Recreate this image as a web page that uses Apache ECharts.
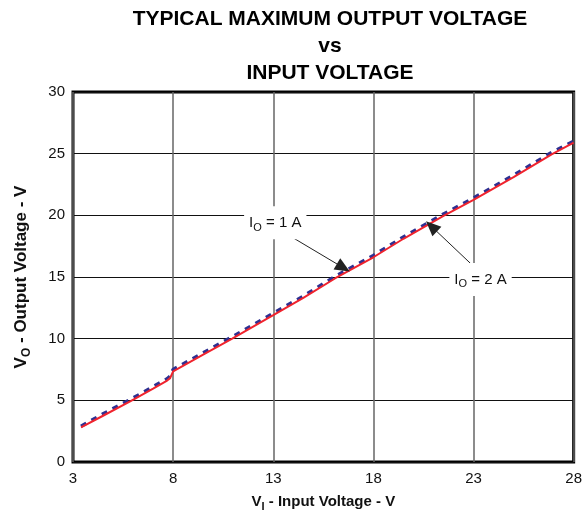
<!DOCTYPE html>
<html>
<head>
<meta charset="utf-8">
<script src="https://cdn.jsdelivr.net/npm/echarts@6/dist/echarts.min.js"></script>
<style>
  html, body { margin: 0; padding: 0; background: #fff; }
  #chart { width: 585px; height: 517px; }
</style>
</head>
<body>
<div id="chart"></div>
<script>
// input voltage (V)
const vin = [3.4, 4.5, 5.9, 7.0, 7.7, 7.85, 8.0, 9.5, 10.95, 13, 14.5, 16.1, 18, 19.5, 21.5, 23, 25, 26.9, 28]
// output voltage, Io = 2 A (red, solid)
const vout2A = [2.8, 3.75, 4.95, 5.95, 6.6, 6.8, 7.35, 8.7, 10.0, 11.9, 13.3, 14.9, 16.6, 18.1, 19.95, 21.25, 23.1, 24.95, 25.9]
// output voltage, Io = 1 A (blue, dashed)
const vout1A = [2.9, 3.9, 5.1, 6.1, 6.75, 6.95, 7.5, 8.85, 10.15, 12.05, 13.45, 15.05, 16.75, 18.25, 20.1, 21.4, 23.25, 25.1, 26.0]

// annotation text anchors and arrows [x, y] in data units
const label1A = [13.1, 19.4]
const arrow1A = [[13.5, 18.65], [16.5, 15.75]]
const label2A = [23.35, 14.8]
const arrow2A = [[22.85, 16.1], [20.9, 19.1]]

const font = 'Liberation Sans, Arial, sans-serif'

const chart = echarts.init(document.getElementById('chart'))

function pairs(ys) {
  return vin.map((x, i) => [x, ys[i]])
}

function tag(coord, sub, rest) {
  return {
    coord: coord,
    symbol: 'rect',
    symbolSize: 1,
    itemStyle: { color: 'rgba(0,0,0,0)' },
    label: {
      show: true,
      position: 'inside',
      backgroundColor: '#fff',
      padding: [6, 5, 6, 5],
      formatter: '{a|I}{s|' + sub + '}{a|' + rest + '}',
      rich: {
        a: { fontFamily: font, fontSize: 15, color: '#111' },
        s: { fontFamily: font, fontSize: 11, color: '#111', padding: [10, 0, 0, 0] }
      }
    }
  }
}

chart.setOption({
  animation: false,
  title: {
    text: 'TYPICAL MAXIMUM OUTPUT VOLTAGE\nvs\nINPUT VOLTAGE',
    left: 325,
    textAlign: 'center',
    top: 1,
    textStyle: {
      fontFamily: font,
      fontSize: 21,
      fontWeight: 'bold',
      color: '#000',
      lineHeight: 27
    }
  },
  grid: {
    left: 73,
    right: 9,
    top: 92,
    bottom: 50,
    show: true,
    borderColor: '#000',
    borderWidth: 3,
    backgroundColor: '#fff'
  },
  xAxis: {
    type: 'value',
    min: 3,
    max: 28,
    interval: 5,
    name: '{b|V}{s|I}{b| - Input Voltage - V}',
    nameLocation: 'middle',
    nameGap: 29,
    nameTextStyle: {
      rich: {
        b: { fontFamily: font, fontSize: 15, fontWeight: 'bold', color: '#111' },
        s: { fontFamily: font, fontSize: 11, fontWeight: 'bold', color: '#111', padding: [10, 0, 0, 0] }
      }
    },
    axisLine: { show: false },
    axisTick: { show: false },
    axisLabel: { fontFamily: font, fontSize: 15, color: '#111', margin: 9 },
    splitLine: { show: true, lineStyle: { color: '#666', width: 1.5 } }
  },
  yAxis: {
    type: 'value',
    min: 0,
    max: 30,
    interval: 5,
    name: '{b|V}{s|O}{b| - Output Voltage - V}',
    nameLocation: 'middle',
    nameGap: 40,
    nameTextStyle: {
      rich: {
        b: { fontFamily: font, fontSize: 17, fontWeight: 'bold', color: '#111' },
        s: { fontFamily: font, fontSize: 12, fontWeight: 'bold', color: '#111', padding: [11, 0, 0, 0] }
      }
    },
    axisLine: { show: false },
    axisTick: { show: false },
    axisLabel: { fontFamily: font, fontSize: 15, color: '#111', margin: 8 },
    splitLine: { show: true, lineStyle: { color: '#111', width: 1 } }
  },
  series: [
    {
      name: 'IO = 1 A',
      type: 'line',
      data: pairs(vout1A),
      showSymbol: false,
      lineStyle: { color: '#2e3192', width: 3.5, type: [6, 6] },
      z: 2
    },
    {
      name: 'IO = 2 A',
      type: 'line',
      data: pairs(vout2A),
      showSymbol: false,
      lineStyle: { color: '#f0232d', width: 2 },
      z: 3,
      markPoint: {
        silent: true,
        data: [tag(label1A, 'O', ' = 1 A'), tag(label2A, 'O', ' = 2 A')]
      },
      markLine: {
        silent: true,
        symbol: ['none', 'triangle'],
        symbolSize: [13, 15],
        label: { show: false },
        lineStyle: { color: '#222', width: 1, type: 'solid' },
        itemStyle: { color: '#111' },
        data: [
          [{ coord: arrow1A[0] }, { coord: arrow1A[1] }],
          [{ coord: arrow2A[0] }, { coord: arrow2A[1] }]
        ]
      }
    }
  ]
})
</script>
</body>
</html>
